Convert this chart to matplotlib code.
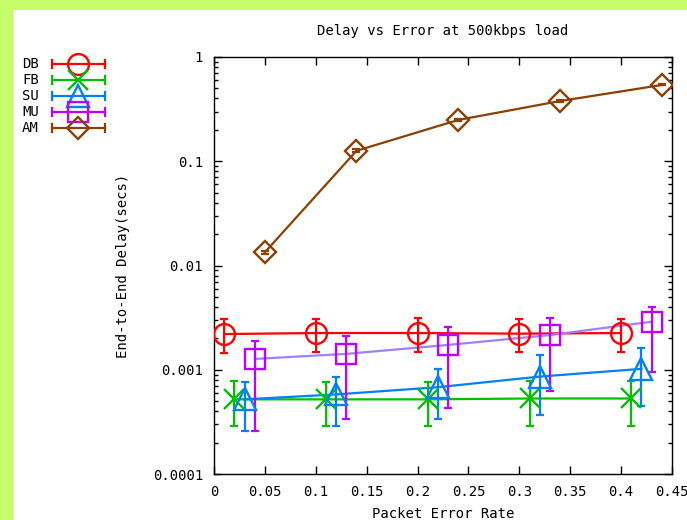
import matplotlib
matplotlib.use("Agg")
import matplotlib.pyplot as plt
from matplotlib.patches import Rectangle
from matplotlib.lines import Line2D
from matplotlib.ticker import LogLocator, FixedLocator, FixedFormatter, NullFormatter

# ---- data ----
series_names = ["DB", "FB", "SU", "MU", "AM"]

db_x = [0.01, 0.10, 0.20, 0.30, 0.40]
db_y = [0.00220, 0.00225, 0.00225, 0.00222, 0.00225]
db_lo = [0.00075, 0.00078, 0.00078, 0.00075, 0.00078]
db_hi = [0.00085, 0.00085, 0.00090, 0.00085, 0.00085]

fb_x = [0.02, 0.11, 0.21, 0.31, 0.41]
fb_y = [0.00052, 0.00052, 0.00052, 0.00053, 0.00053]
fb_lo = [0.00023, 0.00023, 0.00023, 0.00024, 0.00024]
fb_hi = [0.00026, 0.00025, 0.00025, 0.00025, 0.00025]

su_x = [0.03, 0.12, 0.22, 0.32, 0.42]
su_y = [0.00052, 0.00058, 0.00068, 0.00086, 0.00102]
su_lo = [0.00026, 0.00029, 0.00034, 0.00049, 0.00057]
su_hi = [0.00025, 0.00028, 0.00034, 0.00053, 0.00061]

mu_x = [0.04, 0.13, 0.23, 0.33, 0.43]
mu_y = [0.00127, 0.00142, 0.00173, 0.00215, 0.00289]
mu_lo = [0.00101, 0.00108, 0.00130, 0.00153, 0.00193]
mu_hi = [0.00062, 0.00070, 0.00086, 0.00096, 0.00114]

am_x = [0.05, 0.14, 0.24, 0.34, 0.44]
am_y = [0.0134, 0.126, 0.249, 0.378, 0.539]
am_lo = [0.0005, 0.004, 0.004, 0.005, 0.006]
am_hi = [0.0005, 0.004, 0.004, 0.005, 0.006]

x_ticks = [0, 0.05, 0.1, 0.15, 0.2, 0.25, 0.3, 0.35, 0.4, 0.45]
x_tick_labels = ["0", "0.05", "0.1", "0.15", "0.2", "0.25", "0.3", "0.35", "0.4", "0.45"]
y_ticks = [0.0001, 0.001, 0.01, 0.1, 1]
y_tick_labels = ["0.0001", "0.001", "0.01", "0.1", "1"]

# ---- styles ----
styles = {
    "DB": dict(marker="o", mcolor="#ff0000", lcolor="#ff0000", ms=15),
    "FB": dict(marker="x", mcolor="#00c000", lcolor="#00c000", ms=15),
    "SU": dict(marker="^", mcolor="#0080ff", lcolor="#0080ff", ms=16),
    "MU": dict(marker="s", mcolor="#c000ff", lcolor="#a080ff", ms=14.5),
    "AM": dict(marker="D", mcolor="#8b4000", lcolor="#8b4000", ms=11),
}
data = {
    "DB": (db_x, db_y, db_lo, db_hi),
    "FB": (fb_x, fb_y, fb_lo, fb_hi),
    "SU": (su_x, su_y, su_lo, su_hi),
    "MU": (mu_x, mu_y, mu_lo, mu_hi),
    "AM": (am_x, am_y, am_lo, am_hi),
}

W, H = 687, 520
plt.rcParams["font.family"] = ["DejaVu Sans Mono"]
fig = plt.figure(figsize=(W / 100, H / 100), dpi=100)
fig.patch.set_facecolor("#c6fb6a")
fig.add_artist(Rectangle((13 / W, 0), 1, 1 - 10 / H, transform=fig.transFigure,
                         facecolor="white", edgecolor="none", zorder=0))

ax = fig.add_axes([214 / W, 1 - 474 / H, (672 - 214) / W, (474 - 57) / H])
ax.set_facecolor("white")

for name in series_names:
    xs, ys, lo, hi = data[name]
    st = styles[name]
    ax.plot(xs, ys, color=st["lcolor"], lw=1.6, zorder=2)
    ax.errorbar(xs, ys, yerr=[lo, hi], fmt="none", ecolor=st["mcolor"],
                elinewidth=1.6, capsize=3, capthick=1.6, zorder=3)
    ax.plot(xs, ys, linestyle="none", marker=st["marker"], ms=st["ms"],
            mfc="none", mec=st["mcolor"], mew=1.7, zorder=4)

ax.set_yscale("log")
ax.set_xlim(0, 0.45)
ax.set_ylim(0.0001, 1)
ax.xaxis.set_major_locator(FixedLocator(x_ticks))
ax.xaxis.set_major_formatter(FixedFormatter(x_tick_labels))
ax.yaxis.set_major_locator(FixedLocator(y_ticks))
ax.yaxis.set_major_formatter(FixedFormatter(y_tick_labels))
ax.yaxis.set_minor_locator(LogLocator(base=10, subs=range(2, 10)))
ax.yaxis.set_minor_formatter(NullFormatter())
ax.tick_params(which="both", direction="in", top=True, right=True, colors="black",
               labelsize=10, width=1)
ax.tick_params(which="major", length=6, pad=8)
ax.tick_params(which="minor", length=3)
for sp in ax.spines.values():
    sp.set_linewidth(1)
    sp.set_color("black")

ax.set_title("Delay vs Error at 500kbps load", fontsize=10, pad=16)
ax.set_xlabel("Packet Error Rate", fontsize=10, labelpad=6)
ax.set_ylabel("End-to-End Delay(secs)", fontsize=10, labelpad=16)

# ---- key in the upper left ----
key = fig.add_axes([0, 0, 1, 1], facecolor="none")
key.set_xlim(0, W)
key.set_ylim(H, 0)
key.axis("off")
row_y = [64, 80, 96, 112, 128]
for name, yy in zip(series_names, row_y):
    st = styles[name]
    key.text(22, yy, name, fontsize=10, va="center", ha="left")
    key.add_line(Line2D([52, 105], [yy, yy], color=st["mcolor"], lw=1.6))
    for xe in (52, 105):
        key.add_line(Line2D([xe, xe], [yy - 4, yy + 4], color=st["mcolor"], lw=1.6))
    key.plot([78], [yy], marker=st["marker"], ms=st["ms"], mfc="none",
             mec=st["mcolor"], mew=1.7, linestyle="none")

fig.savefig("out.png", dpi=100, facecolor=fig.get_facecolor())
